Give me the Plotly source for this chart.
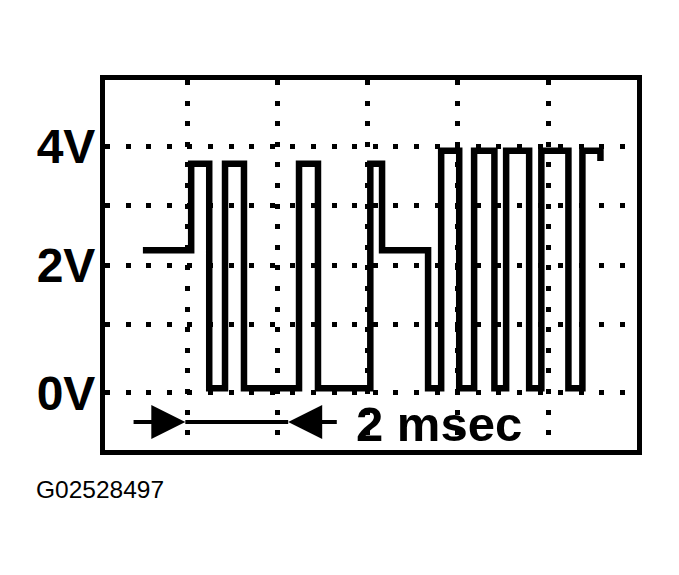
import plotly.graph_objects as go

# ---- data (time in msec, voltage in V) ----
times_ms = [1.02, 2.09, 2.49, 2.84, 3.26, 4.48, 4.90, 6.06, 6.32, 7.34,
            7.63, 8.03, 8.36, 8.81, 9.07, 9.58, 9.85, 10.45, 10.76, 11.16]
volts = [2.25, 3.70, -0.07, 3.70, -0.07, 3.70, -0.07, 3.70, 2.25, -0.07,
         3.92, -0.07, 3.92, -0.07, 3.92, -0.07, 3.92, -0.07, 3.92, 3.75]

y_tickvals = [-0.15, 1, 2, 3, 4]
y_ticktext = ["0V", "", "2V", "", "4V"]
x_tickvals = [2, 4, 6, 8, 10]

scale_label = "2 msec"
scale_start, scale_end = 1.96, 4.24   # arrow tips (msec)
scale_tail_left, scale_tail_right = 0.78, 5.35
scale_y = -0.64
figure_id = "G02528497"

FONT = "Liberation Sans, Arial, sans-serif"

fig = go.Figure()
fig.add_trace(go.Scatter(
    x=times_ms, y=volts, mode="lines",
    line=dict(color="black", width=6.5, shape="hv"),
    hoverinfo="skip", showlegend=False,
))

# scale bar: line between arrow tips + two inward pointing arrows
fig.add_shape(type="line", xref="x", yref="y",
              x0=scale_start, x1=scale_end, y0=scale_y, y1=scale_y,
              line=dict(color="black", width=4))
for tip, tail in [(scale_start, scale_tail_left), (scale_end, scale_tail_right)]:
    fig.add_annotation(x=tip, y=scale_y, ax=tail, ay=scale_y,
                       xref="x", yref="y", axref="x", ayref="y", text="",
                       showarrow=True, arrowhead=2, arrowsize=1.7, arrowwidth=4,
                       arrowcolor="black", standoff=0)
fig.add_annotation(x=7.59, y=-0.68, xref="x", yref="y", text=scale_label,
                   showarrow=False, xanchor="center", yanchor="middle",
                   font=dict(family=FONT, size=49, color="black", weight="bold"))

fig.add_annotation(x=-0.134, y=-0.108, xref="paper", yref="paper",
                   text=figure_id, showarrow=False,
                   xanchor="left", yanchor="middle",
                   font=dict(family=FONT, size=24.5, color="black"))

fig.update_xaxes(range=[0.18, 11.97], tickvals=x_tickvals, showticklabels=False,
                 showgrid=True, gridcolor="black", gridwidth=5,
                 griddash="5px,15.6px", zeroline=False,
                 showline=True, mirror=True, linecolor="black", linewidth=5,
                 ticks="")
fig.update_yaxes(range=[-1.11, 5.11], tickvals=y_tickvals, ticktext=y_ticktext,
                 showgrid=True, gridcolor="black", gridwidth=5,
                 griddash="5px,15.6px", zeroline=False,
                 showline=True, mirror=True, linecolor="black", linewidth=5,
                 ticks="", ticklabelstandoff=-5,
                 tickfont=dict(family=FONT, size=48, color="black", weight="bold"))

fig.update_layout(
    width=679, height=575,
    margin=dict(l=97, r=50, t=72, b=133),
    paper_bgcolor="white", plot_bgcolor="white",
    showlegend=False,
)

fig.write_html("out.html")
